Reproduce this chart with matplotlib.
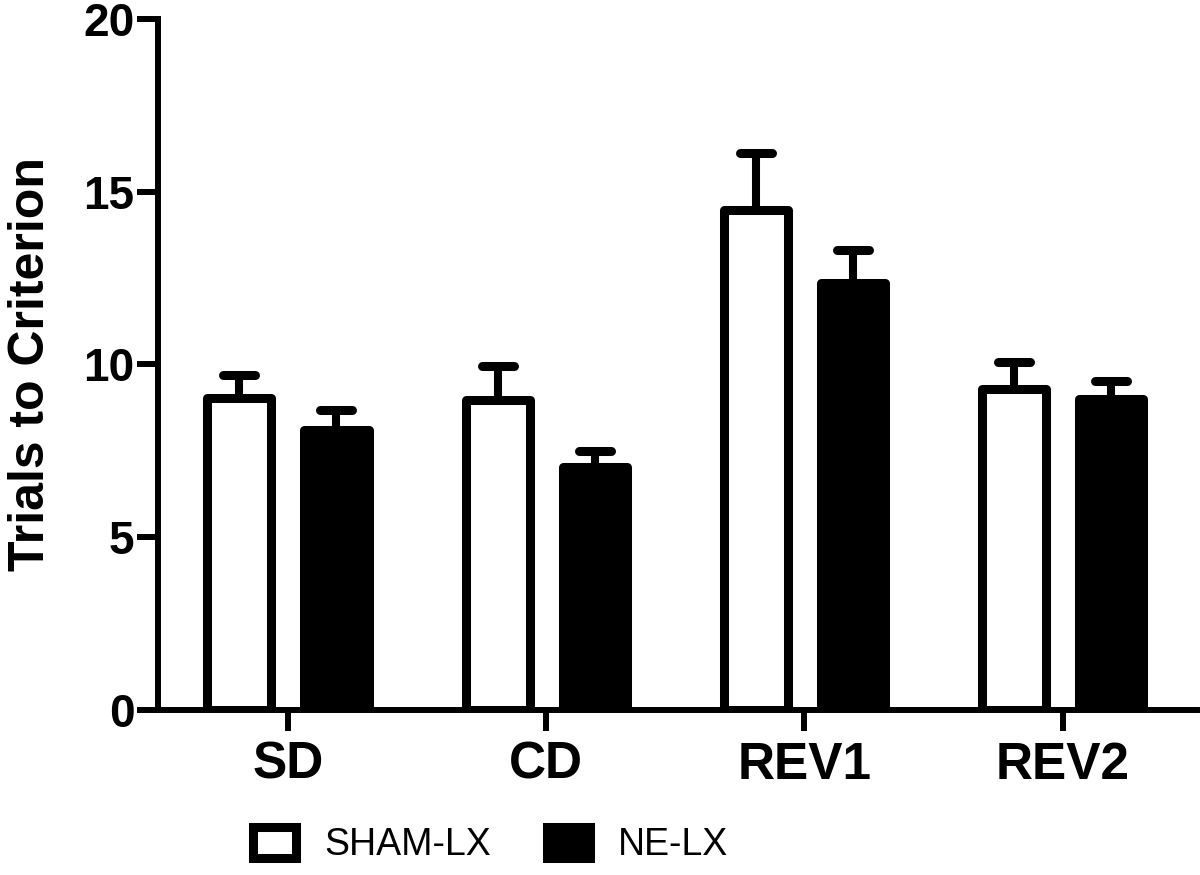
import numpy as np
import matplotlib
matplotlib.use("Agg")
import matplotlib.pyplot as plt
from matplotlib.markers import MarkerStyle

# values
tasks = ["SD", "CD", "REV1", "REV2"]
sham = [9.03, 8.98, 14.46, 9.30]
sham_err = [0.68, 0.99, 1.66, 0.77]
ne = [8.09, 7.04, 12.35, 9.01]
ne_err = [0.60, 0.47, 0.95, 0.51]
yticks = [0, 5, 10, 15, 20]

plt.rcParams['font.family'] = ['Liberation Sans', 'DejaVu Sans']

fig = plt.figure(figsize=(12, 8.75), dpi=100)
ax = fig.add_axes([0.1317, 0.1886, 0.8658, 0.7897])

x = np.arange(len(tasks))
w = 0.248
off = 0.188
lw = 6.5

b1 = ax.bar(x - off, sham, w, color='white', edgecolor='black', linewidth=lw,
            joinstyle='round', zorder=3, label='SHAM-LX')
b2 = ax.bar(x + off, ne, w, color='black', edgecolor='black', linewidth=lw,
            joinstyle='round', zorder=3, label='NE-LX')

# upper error bars only: stem + rounded cap
cap_marker = MarkerStyle('_', capstyle='round')
for xs, vals, errs in [(x - off, sham, sham_err), (x + off, ne, ne_err)]:
    tops = np.array(vals) + np.array(errs)
    ax.vlines(xs, vals, tops, color='black', linewidth=5.8, zorder=2)
    ax.plot(xs, tops, linestyle='none', marker=cap_marker, markersize=23.5,
            markeredgewidth=6.5, color='black', zorder=2)

ax.set_xlim(-0.503, 3.52)
ax.set_ylim(0, 20)
ax.set_yticks(yticks)
ax.set_xticks(x)
ax.set_xticklabels(tasks)

for s in ['top', 'right']:
    ax.spines[s].set_visible(False)
for s in ['left', 'bottom']:
    ax.spines[s].set_linewidth(4.3)

ax.tick_params(axis='y', length=15, width=4.3, pad=2, labelsize=33)
ax.tick_params(axis='x', length=15, width=4.3, pad=7, labelsize=37)
for lab in ax.get_xticklabels() + ax.get_yticklabels():
    lab.set_fontweight('bold')

ax.set_ylabel('Trials to Criterion', fontsize=36, fontweight='bold')
ax.yaxis.set_label_coords(-0.1005, 0.5)

fig.legend(handles=[b1, b2], loc='center left', bbox_to_anchor=(0.2105, 0.034),
           ncol=2, frameon=False, borderpad=0, borderaxespad=0,
           prop={'size': 27},
           handlelength=1.15, handleheight=0.88, handletextpad=0.75,
           columnspacing=1.5)

fig.savefig('out.png', dpi=100)
